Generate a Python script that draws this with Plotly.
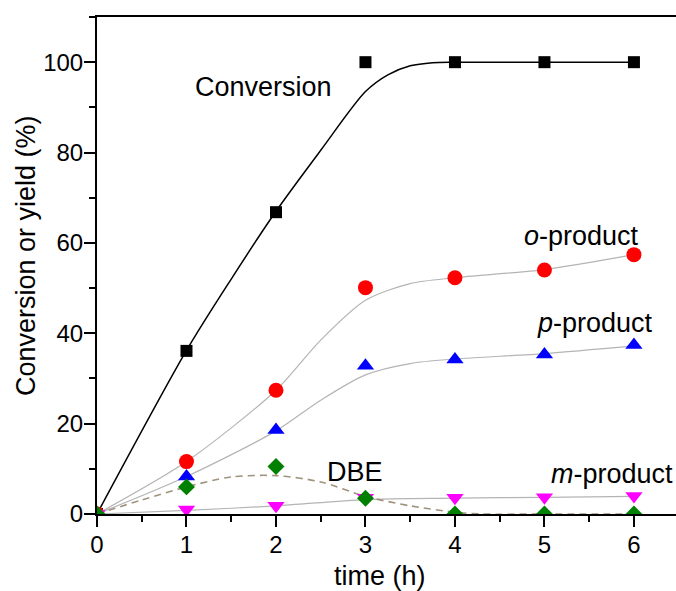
import plotly.graph_objects as go

# ---- data ----
time_h = [0, 1, 2, 3, 4, 5, 6]
conversion = [0, 36.1, 66.8, 100, 100, 100, 100]
o_product = [0, 11.6, 27.4, 50.1, 52.3, 54.0, 57.4]
p_product = [0, 8.3, 18.6, 32.8, 34.2, 35.3, 37.4]
m_product = [0, 1.0, 1.8, 3.6, 3.6, 3.7, 4.0]
dbe = [0, 6.0, 10.5, 3.5, 0, 0, 0]

# fitted curves (knots)
conv_fit_x = [0, 1, 1.5, 2, 2.5, 3, 3.25, 3.5, 3.75, 4, 5, 6]
conv_fit_y = [0, 36.2, 52, 67, 80.5, 93.5, 97.2, 99.2, 99.9, 100, 100, 100]
o_fit_x = [0, 1, 2, 2.5, 3, 3.5, 4, 5, 6]
o_fit_y = [0, 11.6, 27.4, 38.5, 47.3, 51.0, 52.3, 54.1, 57.4]
p_fit_x = [0, 1, 2, 2.5, 3, 3.5, 4, 5, 6]
p_fit_y = [0, 8.3, 18.4, 25.2, 30.8, 33.3, 34.3, 35.5, 37.2]
dbe_fit_x = [0, 0.5, 1, 1.5, 2, 2.5, 3, 3.5, 4, 4.3, 5, 6]
dbe_fit_y = [0, 3.1, 6.0, 8.2, 8.5, 7.1, 3.9, 1.8, 0.4, 0, 0, 0]
m_fit_x = [0, 1, 2, 3, 4, 5, 6]
m_fit_y = [0, 0.8, 1.8, 3.2, 3.5, 3.7, 3.9]

x_ticks = [0, 1, 2, 3, 4, 5, 6]
y_ticks = [0, 20, 40, 60, 80, 100]

FONT = "Arial, Liberation Sans, sans-serif"
GREY = "#b4b4b4"

fig = go.Figure()

# fit lines
fig.add_trace(go.Scatter(x=conv_fit_x, y=conv_fit_y, mode="lines",
                         line=dict(color="black", width=1.5, shape="spline", smoothing=0.8)))
fig.add_trace(go.Scatter(x=o_fit_x, y=o_fit_y, mode="lines",
                         line=dict(color=GREY, width=1.2, shape="spline", smoothing=0.8)))
fig.add_trace(go.Scatter(x=p_fit_x, y=p_fit_y, mode="lines",
                         line=dict(color=GREY, width=1.2, shape="spline", smoothing=0.8)))
fig.add_trace(go.Scatter(x=m_fit_x, y=m_fit_y, mode="lines",
                         line=dict(color=GREY, width=1.2, shape="spline", smoothing=0.8)))
fig.add_trace(go.Scatter(x=dbe_fit_x, y=dbe_fit_y, mode="lines",
                         line=dict(color="#a0937d", width=1.6, dash="7px,5px",
                                   shape="spline", smoothing=0.8)))

# markers
fig.add_trace(go.Scatter(x=time_h, y=conversion, mode="markers",
                         marker=dict(symbol="square", size=12, color="black")))
fig.add_trace(go.Scatter(x=time_h, y=o_product, mode="markers",
                         marker=dict(symbol="circle", size=15, color="#ff0000")))
fig.add_trace(go.Scatter(x=time_h, y=p_product, mode="markers",
                         marker=dict(symbol="triangle-up", size=15, color="#0000ff")))
fig.add_trace(go.Scatter(x=time_h, y=m_product, mode="markers",
                         marker=dict(symbol="triangle-down", size=15, color="#ff00ff")))
fig.add_trace(go.Scatter(x=time_h, y=dbe, mode="markers",
                         marker=dict(symbol="diamond", size=13, color="#008000")))

ann_font = dict(family=FONT, size=27, color="black")
annotations = [
    dict(x=1.866, y=94.6, text="Conversion"),
    dict(x=5.41, y=61.5, text="<i>o</i>-product"),
    dict(x=5.56, y=42.3, text="<i>p</i>-product"),
    dict(x=2.88, y=9.2, text="DBE"),
    dict(x=5.76, y=8.8, text="<i>m</i>-product"),
]
for a in annotations:
    a.update(xref="x", yref="y", showarrow=False, font=ann_font,
             xanchor="center", yanchor="middle")

# axis titles as paper-positioned annotations
annotations.append(dict(xref="paper", yref="paper", x=0.4888, y=-0.125,
                        text="time (h)", showarrow=False, font=ann_font,
                        xanchor="center", yanchor="middle"))
annotations.append(dict(xref="paper", yref="paper", x=-0.1226, y=0.519,
                        text="Conversion or yield (%)", showarrow=False, font=ann_font,
                        textangle=-90, xanchor="center", yanchor="middle"))

fig.update_layout(
    width=676, height=591,
    margin=dict(l=97, r=0, t=17, b=77),
    paper_bgcolor="white", plot_bgcolor="white",
    showlegend=False,
    font=dict(family=FONT, color="black"),
    annotations=annotations,
    xaxis=dict(
        range=[0, 6.47], tickvals=x_ticks, ticktext=[str(v) for v in x_ticks],
        ticks="outside", ticklen=11, tickwidth=2, tickcolor="black",
        showline=True, linewidth=2, linecolor="black", mirror=True,
        showgrid=False, zeroline=False, automargin=False,
        tickfont=dict(size=24, family=FONT), ticklabelstandoff=-3,
        minor=dict(dtick=0.5, tick0=0, ticks="outside", ticklen=6, tickwidth=2,
                   tickcolor="black", showgrid=False),
    ),
    yaxis=dict(
        range=[0, 110], tickvals=y_ticks, ticktext=[str(v) for v in y_ticks],
        ticks="outside", ticklen=11, tickwidth=2, tickcolor="black",
        showline=True, linewidth=2, linecolor="black", mirror=False,
        showgrid=False, zeroline=False, automargin=False,
        tickfont=dict(size=24, family=FONT), ticklabelstandoff=-4,
        minor=dict(dtick=10, tick0=0, ticks="outside", ticklen=6, tickwidth=2,
                   tickcolor="black", showgrid=False),
    ),
)

fig.write_html("out.html",
               config={"displayModeBar": False},
               post_script="document.body.style.margin='0';document.body.style.overflow='hidden';")
